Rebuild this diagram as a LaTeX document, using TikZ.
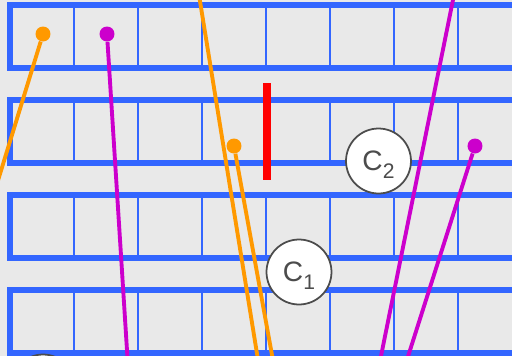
\documentclass[tikz,border=0pt]{standalone}
\usepackage{fontspec}
\setmainfont{Liberation Sans}
\definecolor{railblue}{RGB}{51,102,255}
\definecolor{paper}{RGB}{233,233,233}
\definecolor{amber}{RGB}{255,153,0}
\definecolor{plum}{RGB}{204,0,204}
\definecolor{signal}{RGB}{255,0,0}
\newcommand{\tagsub}[1]{\smash{\raisebox{-4.5pt}{\fontsize{12}{12}\selectfont #1}}}
\tikzset{
  rail/.style={line width=3.4pt,draw=railblue,line join=miter},
  cellwall/.style={line width=1.7pt,draw=railblue},
  wire/.style={line width=2.2pt},
  pin/.style={circle,inner sep=0pt,minimum size=0.3cm},
  tag/.style={circle,draw=black!70,line width=1pt,fill=white,minimum size=1.3cm,
    inner sep=0pt,font=\fontsize{16}{16}\selectfont,text=black!70},
}
\begin{document}
\begin{tikzpicture}[x=0.02cm,y=-0.02cm]
  \useasboundingbox (0,0) rectangle (512,356);
  \clip (0,0) rectangle (512,356);
  \fill[paper] (0,0) rectangle (512,356);
  % rows of cells
  \foreach \t in {5,100,195,290}{
    \foreach \x in {74,138,...,458}
      \draw[cellwall] (\x,\t) -- (\x,{\t+63});
    \draw[rail] (520,\t) -- (10,\t) -- (10,{\t+63}) -- (520,{\t+63});
  }
  % red marker
  \draw[line width=4.5pt,signal] (267,83) -- (267,180);
  % free ends of the wires
  \coordinate (o1e) at (-8,200);
  \coordinate (o2s) at (199,-5);
  \coordinate (o2e) at (259,366);
  \coordinate (o3e) at (274,366);
  \coordinate (m1e) at (128,366);
  \coordinate (m2s) at (454,-5);
  \coordinate (m2e) at (379,366);
  \coordinate (m3e) at (405,366);
  % pins
  \node[pin,fill=amber] (o1) at (43,34) {};
  \node[pin,fill=amber] (o3) at (234,146) {};
  \node[pin,fill=plum] (m1) at (107,34) {};
  \node[pin,fill=plum] (m3) at (475,146) {};
  % wires
  \draw[wire,amber] (o1) -- (o1e);
  \draw[wire,amber] (o2s) -- (o2e);
  \draw[wire,amber] (o3) -- (o3e);
  \draw[wire,plum] (m1) -- (m1e);
  \draw[wire,plum] (m2s) -- (m2e);
  \draw[wire,plum] (m3) -- (m3e);
  % tags
  \node[tag] (c1) at (299,272) {C\tagsub{1}};
  \node[tag] (c2) at (378.5,161) {C\tagsub{2}};
  \node[tag] (c0) at (43,387) {};
\end{tikzpicture}
\end{document}
